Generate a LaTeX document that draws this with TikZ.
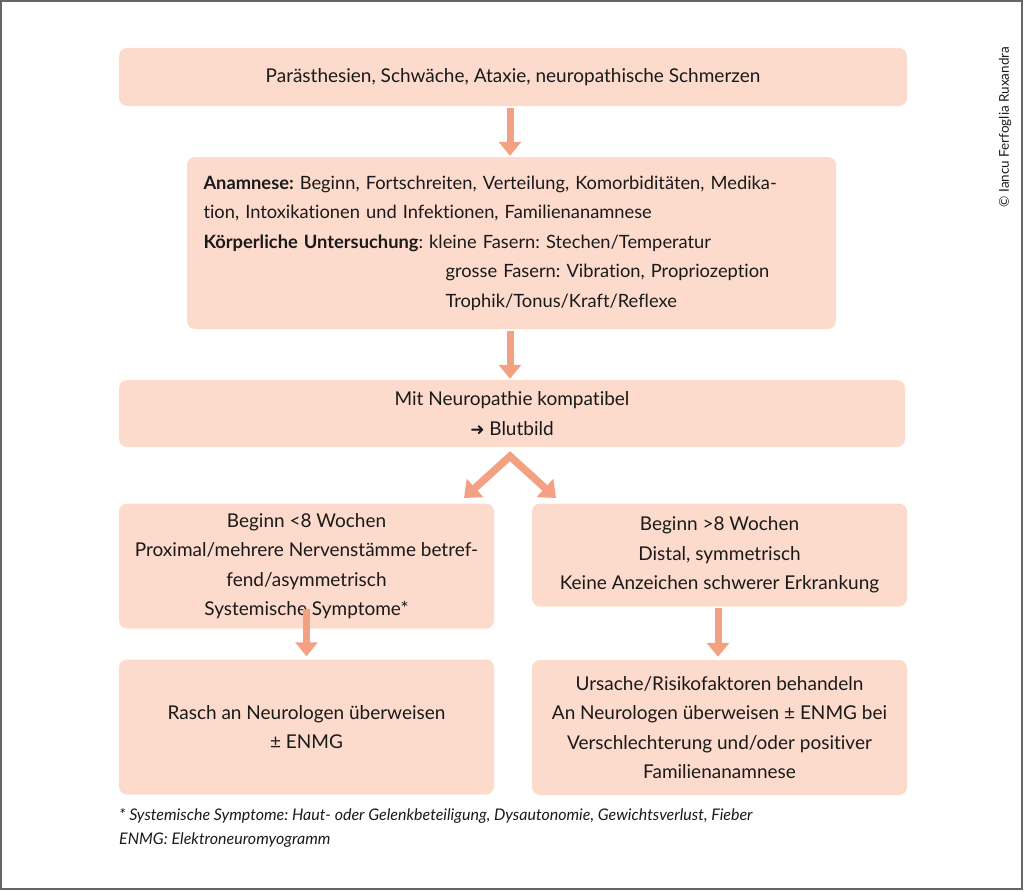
\documentclass[tikz,border=0pt]{standalone}
\usepackage{fontspec}
\setmainfont{Lato}[Ligatures={NoCommon}]
\newfontfamily\symfont{DejaVu Sans}
\usetikzlibrary{arrows.meta,calc}
\definecolor{boxfill}{HTML}{FCDACC}
\definecolor{arrowcol}{HTML}{F2A283}
\definecolor{txt}{HTML}{1A1A1A}
\frenchspacing
\begin{document}
\begin{tikzpicture}[x=1pt,y=-1pt,
  box/.style={fill=boxfill, rounded corners=8pt, inner sep=0pt, text=txt,
    font=\fontsize{19}{29.5}\selectfont, align=center},
  arr/.style={draw=arrowcol, line width=7pt, -{Triangle[width=22pt,length=14pt]}},
  splitarr/.style={draw=arrowcol, line width=7.5pt, line join=miter,
    {Triangle[width=24pt,length=15pt]}-{Triangle[width=24pt,length=15pt]}},
  note/.style={font=\fontsize{16}{24}\selectfont\itshape, text=txt, anchor=base west, inner sep=0pt}
]
\useasboundingbox (0,0) rectangle (1024,891);
\draw[draw=gray!80!black, line width=2pt] (1,1) rectangle (1022,889);

\node[box, minimum width=788pt, minimum height=58pt] (b1) at (513,77)
  {Parästhesien, Schwäche, Ataxie, neuropathische Schmerzen};

\node[box, minimum width=649pt, minimum height=172pt, text width=616pt, align=left,
      font=\fontsize{18.3}{29.5}\selectfont] (b2) at (511.5,243)
  {\textbf{Anamnese:} Beginn, Fortschreiten, Verteilung, Komorbiditäten, Medika-\\
   tion, Intoxikationen und Infektionen, Familienanamnese\\
   \textbf{Körperliche Untersuchung}: kleine Fasern: Stechen/Temperatur\\
   \hspace*{242pt}grosse Fasern: Vibration, Propriozeption\\
   \hspace*{242pt}Trophik/Tonus/Kraft/Reflexe};

\node[box, minimum width=786pt, minimum height=67pt] (b3) at (512,413.5)
  {Mit Neuropathie kompatibel\\ {\symfont\fontsize{17}{17}\selectfont ➜} Blutbild};

\node[box, minimum width=375pt, minimum height=125pt] (b4) at (306.5,566)
  {Beginn <8 Wochen\\ Proximal/mehrere Nervenstämme betref-\\ fend/asymmetrisch\\ Systemische Symptome*};

\node[box, minimum width=375pt, minimum height=103pt] (b5) at (719.5,555)
  {Beginn >8 Wochen\\ Distal, symmetrisch\\ Keine Anzeichen schwerer Erkrankung};

\node[box, minimum width=375pt, minimum height=135pt] (b6) at (306.5,727)
  {Rasch an Neurologen überweisen\\ ± ENMG};

\node[box, minimum width=375pt, minimum height=135pt] (b7) at (719.5,727.5)
  {Ursache/Risikofaktoren behandeln\\ An Neurologen überweisen ± ENMG bei\\ Verschlechterung und/oder positiver\\ Familienanamnese};

% arrows
\coordinate (a1s) at ($(b1.south)+(-3,2)$);
\coordinate (a1e) at ($(b2.north)+(-1.5,-1)$);
\draw[arr] (a1s) -- (a1e);
\coordinate (a2s) at ($(b2.south)+(-1.5,2)$);
\coordinate (a2e) at ($(b3.north)+(-2,-1)$);
\draw[arr] (a2s) -- (a2e);

\coordinate (apex) at ($(b3.south)+(-2,9)$);
\coordinate (tipL) at (464,498);
\coordinate (tipR) at (556,498);
\draw[splitarr] (tipL) -- (apex) -- (tipR);

\coordinate (a4s) at ($(b4.south)+(0,-20)$);
\coordinate (a4e) at ($(b6.north)+(0,-3)$);
\draw[arr] (a4s) -- (a4e);
\coordinate (a5s) at ($(b5.south)+(-1.5,1)$);
\coordinate (a5e) at ($(b7.north)+(-1.5,-3)$);
\draw[arr] (a5s) -- (a5e);

% footnotes
\node[note] (n1) at (119,820) {* Systemische Symptome: Haut- oder Gelenkbeteiligung, Dysautonomie, Gewichtsverlust, Fieber};
\node[note] (n2) at (119,844) {ENMG: Elektroneuromyogramm};

% copyright
\node[rotate=90, font=\fontsize{13.5}{13.5}\selectfont, text=txt, inner sep=0pt] (cr) at (1005,127) {© Iancu Ferfoglia Ruxandra};
\end{tikzpicture}
\end{document}
